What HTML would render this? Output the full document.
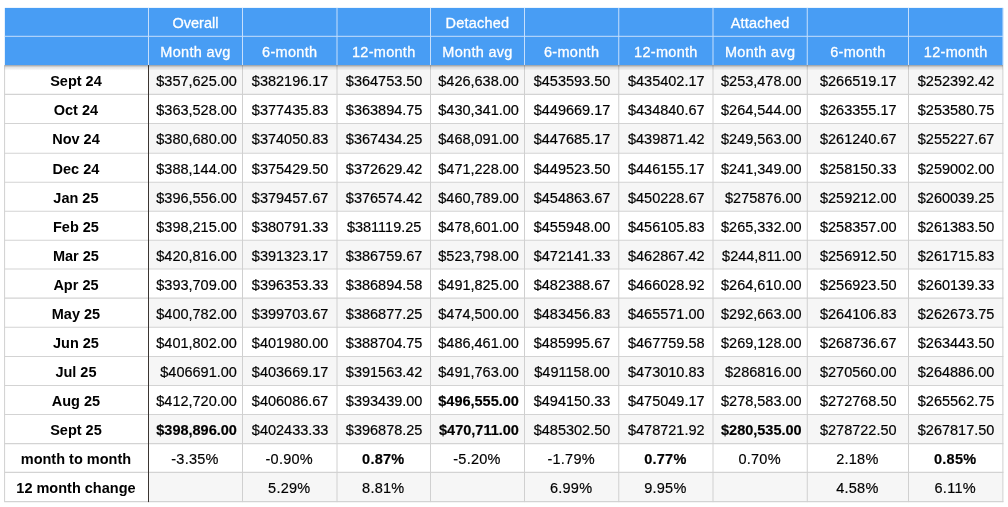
<!DOCTYPE html>
<html lang="en">
<head>
<meta charset="utf-8">
<title>Home price averages</title>
<style>
html,body{margin:0;padding:0;background:#fff;}
body{width:1008px;height:507px;overflow:hidden;position:relative;font-family:"Liberation Sans",Arial,Helvetica,sans-serif;font-size:14.5px;color:#000;}
#sheet{position:absolute;left:0;top:0;width:1008px;height:507px;}
#grid{position:absolute;left:0;top:0;}
table{position:absolute;left:4.6px;top:7.9px;width:998.30px;border-collapse:collapse;border-spacing:0;table-layout:fixed;will-change:transform;}
td,th{padding:0;margin:0;border:0;overflow:hidden;white-space:nowrap;text-align:center;vertical-align:top;font-weight:normal;}
td span,th span{display:block;position:relative;top:1.1px;}
thead th{color:#fff;letter-spacing:0.3px;-webkit-text-stroke:0.3px #fff;}
thead th span{top:1.1px;left:-0.4px;}
tbody th{font-weight:bold;}
tbody th span{left:-1.0px;}
thead tr.h1 th{letter-spacing:0;}
thead tr.h1 th.w{letter-spacing:0.22px;}
tbody td{-webkit-text-stroke:0.18px #000;}
td.r{text-align:right;}
td.r span{padding-right:6.0px;}
td.b{font-weight:bold;}
td.p{letter-spacing:0.25px;}
td.p span{left:-0.9px;}
tr.n td span,tr.n th span{top:1.70px;}
</style>
</head>
<body>
<div id="sheet">
<svg id="grid" width="1008" height="507" viewBox="0 0 1008 507">
<defs><linearGradient id="hs" x1="0" y1="0" x2="0" y2="1"><stop offset="0" stop-color="#000" stop-opacity="0.36"/><stop offset="0.4" stop-color="#000" stop-opacity="0.11"/><stop offset="1" stop-color="#000" stop-opacity="0"/></linearGradient></defs>
<rect x="148.5" y="65.10" width="854.40" height="29.30" fill="#f6f6f6"/>
<rect x="148.5" y="123.55" width="854.40" height="29.70" fill="#f6f6f6"/>
<rect x="148.5" y="182.25" width="854.40" height="29.00" fill="#f6f6f6"/>
<rect x="148.5" y="240.25" width="854.40" height="28.75" fill="#f6f6f6"/>
<rect x="148.5" y="298.10" width="854.40" height="29.20" fill="#f6f6f6"/>
<rect x="148.5" y="356.45" width="854.40" height="29.00" fill="#f6f6f6"/>
<rect x="148.5" y="414.45" width="854.40" height="29.15" fill="#f6f6f6"/>
<rect x="148.5" y="472.40" width="854.40" height="29.20" fill="#f6f6f6"/>
<rect x="4.85" y="7.9" width="998.35" height="57.20" fill="#489df4"/>
<line x1="4.6" y1="94.40" x2="1003.4" y2="94.40" stroke="#d3d3d3" stroke-width="1.1"/>
<line x1="4.6" y1="123.55" x2="1003.4" y2="123.55" stroke="#d3d3d3" stroke-width="1.1"/>
<line x1="4.6" y1="153.25" x2="1003.4" y2="153.25" stroke="#d3d3d3" stroke-width="1.1"/>
<line x1="4.6" y1="182.25" x2="1003.4" y2="182.25" stroke="#d3d3d3" stroke-width="1.1"/>
<line x1="4.6" y1="211.25" x2="1003.4" y2="211.25" stroke="#d3d3d3" stroke-width="1.1"/>
<line x1="4.6" y1="240.25" x2="1003.4" y2="240.25" stroke="#d3d3d3" stroke-width="1.1"/>
<line x1="4.6" y1="269.00" x2="1003.4" y2="269.00" stroke="#d3d3d3" stroke-width="1.1"/>
<line x1="4.6" y1="298.10" x2="1003.4" y2="298.10" stroke="#d3d3d3" stroke-width="1.1"/>
<line x1="4.6" y1="327.30" x2="1003.4" y2="327.30" stroke="#d3d3d3" stroke-width="1.1"/>
<line x1="4.6" y1="356.45" x2="1003.4" y2="356.45" stroke="#d3d3d3" stroke-width="1.1"/>
<line x1="4.6" y1="385.45" x2="1003.4" y2="385.45" stroke="#d3d3d3" stroke-width="1.1"/>
<line x1="4.6" y1="414.45" x2="1003.4" y2="414.45" stroke="#d3d3d3" stroke-width="1.1"/>
<line x1="4.6" y1="443.60" x2="1003.4" y2="443.60" stroke="#d3d3d3" stroke-width="1.1"/>
<line x1="4.6" y1="472.40" x2="1003.4" y2="472.40" stroke="#d3d3d3" stroke-width="1.1"/>
<line x1="4.6" y1="501.60" x2="1003.4" y2="501.60" stroke="#d3d3d3" stroke-width="1.1"/>
<line x1="4.6" y1="65.1" x2="4.6" y2="502.10" stroke="#d0d0d0" stroke-width="1"/>
<line x1="242.5" y1="65.1" x2="242.5" y2="502.10" stroke="#d0d0d0" stroke-width="1"/>
<line x1="337.0" y1="65.1" x2="337.0" y2="502.10" stroke="#d0d0d0" stroke-width="1"/>
<line x1="430.5" y1="65.1" x2="430.5" y2="502.10" stroke="#d0d0d0" stroke-width="1"/>
<line x1="524.5" y1="65.1" x2="524.5" y2="502.10" stroke="#d0d0d0" stroke-width="1"/>
<line x1="618.75" y1="65.1" x2="618.75" y2="502.10" stroke="#d0d0d0" stroke-width="1"/>
<line x1="713.0" y1="65.1" x2="713.0" y2="502.10" stroke="#d0d0d0" stroke-width="1"/>
<line x1="807.25" y1="65.1" x2="807.25" y2="502.10" stroke="#d0d0d0" stroke-width="1"/>
<line x1="908.5" y1="65.1" x2="908.5" y2="502.10" stroke="#d0d0d0" stroke-width="1"/>
<line x1="1002.9" y1="65.1" x2="1002.9" y2="502.10" stroke="#d0d0d0" stroke-width="1"/>
<line x1="4.6" y1="36.3" x2="1002.9" y2="36.3" stroke="#c6dffc" stroke-width="1"/>
<line x1="148.5" y1="7.9" x2="148.5" y2="65.1" stroke="#c6dffc" stroke-width="1"/>
<line x1="242.5" y1="7.9" x2="242.5" y2="65.1" stroke="#c6dffc" stroke-width="1"/>
<line x1="337.0" y1="7.9" x2="337.0" y2="65.1" stroke="#c6dffc" stroke-width="1"/>
<line x1="430.5" y1="7.9" x2="430.5" y2="65.1" stroke="#c6dffc" stroke-width="1"/>
<line x1="524.5" y1="7.9" x2="524.5" y2="65.1" stroke="#c6dffc" stroke-width="1"/>
<line x1="618.75" y1="7.9" x2="618.75" y2="65.1" stroke="#c6dffc" stroke-width="1"/>
<line x1="713.0" y1="7.9" x2="713.0" y2="65.1" stroke="#c6dffc" stroke-width="1"/>
<line x1="807.25" y1="7.9" x2="807.25" y2="65.1" stroke="#c6dffc" stroke-width="1"/>
<line x1="908.5" y1="7.9" x2="908.5" y2="65.1" stroke="#c6dffc" stroke-width="1"/>
<line x1="1002.60" y1="7.9" x2="1002.60" y2="65.1" stroke="#c6dffc" stroke-width="0.6"/>
<rect x="4.6" y="65.1" width="998.3" height="5.5" fill="url(#hs)"/>
<line x1="148.5" y1="65.1" x2="148.5" y2="502.10" stroke="#3a3532" stroke-width="1"/>
</svg>
<table>
<colgroup>
<col style="width:143.90px">
<col style="width:94.00px">
<col style="width:94.50px">
<col style="width:93.50px">
<col style="width:94.00px">
<col style="width:94.25px">
<col style="width:94.25px">
<col style="width:94.25px">
<col style="width:101.25px">
<col style="width:94.40px">
</colgroup>
<thead>
<tr class="h1" style="height:28.40px;line-height:28.40px"><th></th><th><span>Overall</span></th><th></th><th></th><th class="w"><span>Detached</span></th><th></th><th></th><th class="w"><span>Attached</span></th><th></th><th></th></tr>
<tr class="h2" style="height:28.80px;line-height:28.80px"><th></th><th><span>Month avg</span></th><th><span>6-month</span></th><th><span>12-month</span></th><th><span>Month avg</span></th><th><span>6-month</span></th><th><span>12-month</span></th><th><span>Month avg</span></th><th><span>6-month</span></th><th><span>12-month</span></th></tr>
</thead>
<tbody>
<tr class="n" style="height:29.30px;line-height:29.30px"><th><span>Sept 24</span></th><td class="r"><span>$357,625.00</span></td><td><span>$382196.17</span></td><td><span>$364753.50</span></td><td class="r"><span>$426,638.00</span></td><td><span>$453593.50</span></td><td><span>$435402.17</span></td><td class="r"><span>$253,478.00</span></td><td><span>$266519.17</span></td><td><span>$252392.42</span></td></tr>
<tr style="height:29.15px;line-height:29.15px"><th><span>Oct 24</span></th><td class="r"><span>$363,528.00</span></td><td><span>$377435.83</span></td><td><span>$363894.75</span></td><td class="r"><span>$430,341.00</span></td><td><span>$449669.17</span></td><td><span>$434840.67</span></td><td class="r"><span>$264,544.00</span></td><td><span>$263355.17</span></td><td><span>$253580.75</span></td></tr>
<tr style="height:29.70px;line-height:29.70px"><th><span>Nov 24</span></th><td class="r"><span>$380,680.00</span></td><td><span>$374050.83</span></td><td><span>$367434.25</span></td><td class="r"><span>$468,091.00</span></td><td><span>$447685.17</span></td><td><span>$439871.42</span></td><td class="r"><span>$249,563.00</span></td><td><span>$261240.67</span></td><td><span>$255227.67</span></td></tr>
<tr class="n" style="height:29.00px;line-height:29.00px"><th><span>Dec 24</span></th><td class="r"><span>$388,144.00</span></td><td><span>$375429.50</span></td><td><span>$372629.42</span></td><td class="r"><span>$471,228.00</span></td><td><span>$449523.50</span></td><td><span>$446155.17</span></td><td class="r"><span>$241,349.00</span></td><td><span>$258150.33</span></td><td><span>$259002.00</span></td></tr>
<tr class="n" style="height:29.00px;line-height:29.00px"><th><span>Jan 25</span></th><td class="r"><span>$396,556.00</span></td><td><span>$379457.67</span></td><td><span>$376574.42</span></td><td class="r"><span>$460,789.00</span></td><td><span>$454863.67</span></td><td><span>$450228.67</span></td><td class="r"><span>$275876.00</span></td><td><span>$259212.00</span></td><td><span>$260039.25</span></td></tr>
<tr class="n" style="height:29.00px;line-height:29.00px"><th><span>Feb 25</span></th><td class="r"><span>$398,215.00</span></td><td><span>$380791.33</span></td><td><span>$381119.25</span></td><td class="r"><span>$478,601.00</span></td><td><span>$455948.00</span></td><td><span>$456105.83</span></td><td class="r"><span>$265,332.00</span></td><td><span>$258357.00</span></td><td><span>$261383.50</span></td></tr>
<tr class="n" style="height:28.75px;line-height:28.75px"><th><span>Mar 25</span></th><td class="r"><span>$420,816.00</span></td><td><span>$391323.17</span></td><td><span>$386759.67</span></td><td class="r"><span>$523,798.00</span></td><td><span>$472141.33</span></td><td><span>$462867.42</span></td><td class="r"><span>$244,811.00</span></td><td><span>$256912.50</span></td><td><span>$261715.83</span></td></tr>
<tr class="n" style="height:29.10px;line-height:29.10px"><th><span>Apr 25</span></th><td class="r"><span>$393,709.00</span></td><td><span>$396353.33</span></td><td><span>$386894.58</span></td><td class="r"><span>$491,825.00</span></td><td><span>$482388.67</span></td><td><span>$466028.92</span></td><td class="r"><span>$264,610.00</span></td><td><span>$256923.50</span></td><td><span>$260139.33</span></td></tr>
<tr class="n" style="height:29.20px;line-height:29.20px"><th><span>May 25</span></th><td class="r"><span>$400,782.00</span></td><td><span>$399703.67</span></td><td><span>$386877.25</span></td><td class="r"><span>$474,500.00</span></td><td><span>$483456.83</span></td><td><span>$465571.00</span></td><td class="r"><span>$292,663.00</span></td><td><span>$264106.83</span></td><td><span>$262673.75</span></td></tr>
<tr style="height:29.15px;line-height:29.15px"><th><span>Jun 25</span></th><td class="r"><span>$401,802.00</span></td><td><span>$401980.00</span></td><td><span>$388704.75</span></td><td class="r"><span>$486,461.00</span></td><td><span>$485995.67</span></td><td><span>$467759.58</span></td><td class="r"><span>$269,128.00</span></td><td><span>$268736.67</span></td><td><span>$263443.50</span></td></tr>
<tr style="height:29.00px;line-height:29.00px"><th><span>Jul 25</span></th><td class="r"><span>$406691.00</span></td><td><span>$403669.17</span></td><td><span>$391563.42</span></td><td class="r"><span>$491,763.00</span></td><td><span>$491158.00</span></td><td><span>$473010.83</span></td><td class="r"><span>$286816.00</span></td><td><span>$270560.00</span></td><td><span>$264886.00</span></td></tr>
<tr style="height:29.00px;line-height:29.00px"><th><span>Aug 25</span></th><td class="r"><span>$412,720.00</span></td><td><span>$406086.67</span></td><td><span>$393439.00</span></td><td class="b r"><span>$496,555.00</span></td><td><span>$494150.33</span></td><td><span>$475049.17</span></td><td class="r"><span>$278,583.00</span></td><td><span>$272768.50</span></td><td><span>$265562.75</span></td></tr>
<tr style="height:29.15px;line-height:29.15px"><th><span>Sept 25</span></th><td class="b r"><span>$398,896.00</span></td><td><span>$402433.33</span></td><td><span>$396878.25</span></td><td class="b r"><span>$470,711.00</span></td><td><span>$485302.50</span></td><td><span>$478721.92</span></td><td class="b r"><span>$280,535.00</span></td><td><span>$278722.50</span></td><td><span>$267817.50</span></td></tr>
<tr style="height:28.80px;line-height:28.80px"><th><span>month to month</span></th><td class="p"><span>-3.35%</span></td><td class="p"><span>-0.90%</span></td><td class="b p"><span>0.87%</span></td><td class="p"><span>-5.20%</span></td><td class="p"><span>-1.79%</span></td><td class="b p"><span>0.77%</span></td><td class="p"><span>0.70%</span></td><td class="p"><span>2.18%</span></td><td class="b p"><span>0.85%</span></td></tr>
<tr style="height:29.20px;line-height:29.20px"><th><span>12 month change</span></th><td></td><td class="p"><span>5.29%</span></td><td class="p"><span>8.81%</span></td><td></td><td class="p"><span>6.99%</span></td><td class="p"><span>9.95%</span></td><td></td><td class="p"><span>4.58%</span></td><td class="p"><span>6.11%</span></td></tr>
</tbody>
</table>
</div>
</body>
</html>
